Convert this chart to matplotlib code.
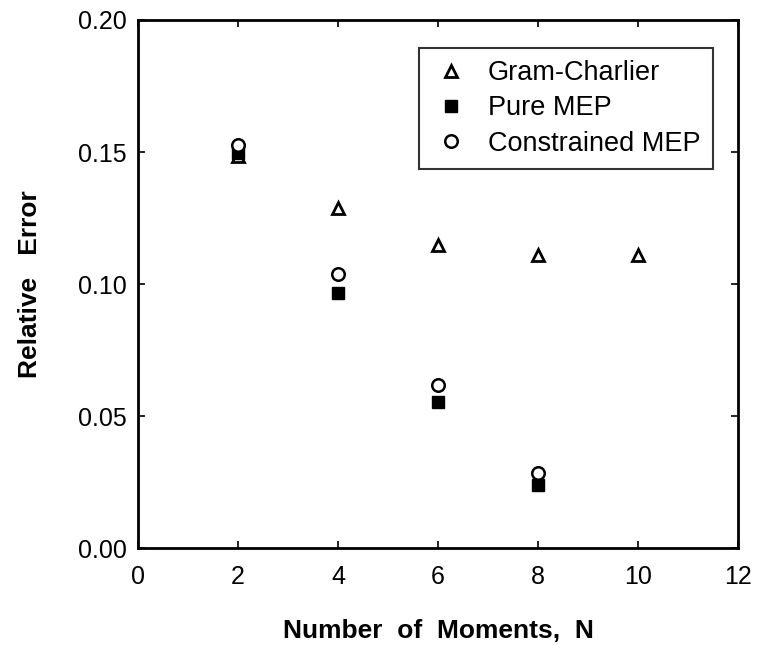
import matplotlib.pyplot as plt

# data
n_gc = [2, 4, 6, 8, 10]
err_gc = [0.1485, 0.129, 0.1148, 0.1112, 0.1112]

n_pure = [2, 4, 6, 8]
err_pure = [0.1495, 0.0968, 0.0552, 0.0238]

n_con = [2, 4, 6, 8]
err_con = [0.1528, 0.1038, 0.0618, 0.0285]

plt.rcParams['font.family'] = ['Liberation Sans', 'DejaVu Sans']

fig = plt.figure(figsize=(7.62, 6.45), dpi=100)
ax = fig.add_axes([0.181, 0.150, 0.788, 0.819])

ax.plot(n_gc, err_gc, linestyle='none', marker='^', markersize=8,
        markerfacecolor='white', markeredgecolor='black', markeredgewidth=2,
        label='Gram-Charlier')
ax.plot(n_pure, err_pure, linestyle='none', marker='s', markersize=9,
        markerfacecolor='black', markeredgecolor='black',
        label='Pure MEP')
ax.plot(n_con, err_con, linestyle='none', marker='o', markersize=9,
        markerfacecolor='white', markeredgecolor='black', markeredgewidth=1.8,
        label='Constrained MEP')

ax.set_xlim(0, 12)
ax.set_ylim(0, 0.20)
ax.set_xticks([0, 2, 4, 6, 8, 10, 12])
ax.set_yticks([0.00, 0.05, 0.10, 0.15, 0.20])
ax.set_yticklabels(['0.00', '0.05', '0.10', '0.15', '0.20'])
ax.tick_params(direction='in', top=True, right=True, length=5, width=1.2,
               labelsize=18)
ax.tick_params(axis='x', pad=12)
ax.tick_params(axis='y', pad=8)
for s in ax.spines.values():
    s.set_linewidth(2)

ax.set_xlabel('Number  of  Moments,  N', fontsize=19, fontweight='bold', labelpad=22)
ax.set_ylabel('Relative   Error', fontsize=19, fontweight='bold', labelpad=26)

leg = ax.legend(loc='upper right', bbox_to_anchor=(0.957, 0.947), fontsize=19.5,
                frameon=True, fancybox=False, edgecolor='black',
                handletextpad=0.6, borderpad=0.45, labelspacing=0.34,
                handlelength=1.5, borderaxespad=0)
leg.get_frame().set_linewidth(1.5)

fig.savefig('out.png', dpi=100)
